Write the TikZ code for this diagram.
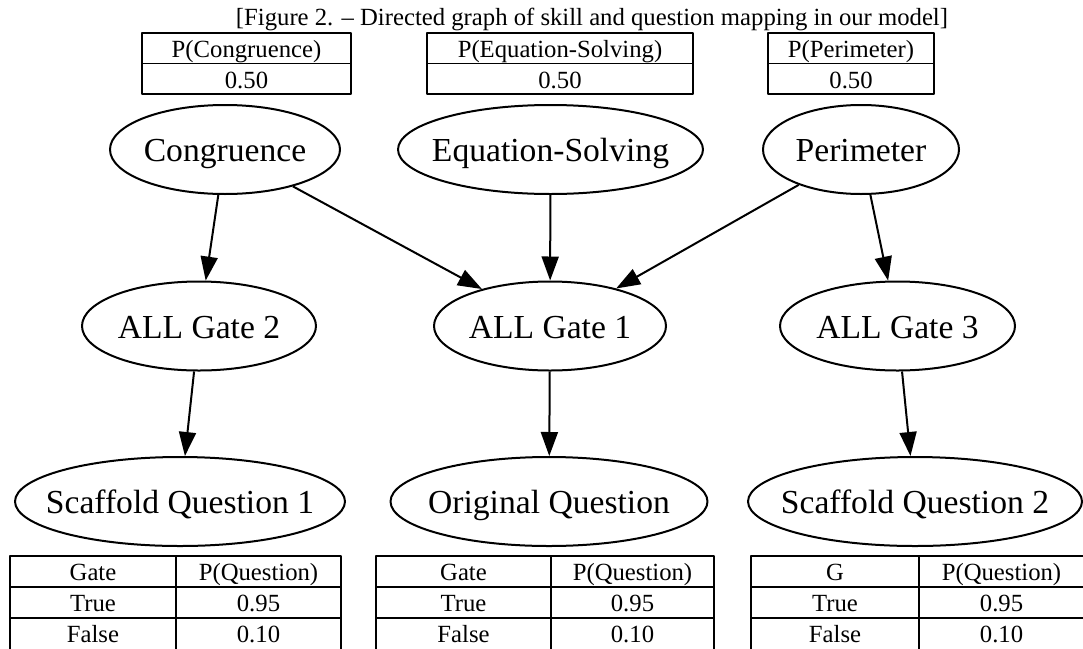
\documentclass[tikz,border=0pt]{standalone}
\usepackage{fontspec}
\setmainfont{Liberation Serif}
\usetikzlibrary{arrows.meta, shapes.geometric}
\def\inkColor{black}
\def\nodeText#1{\makebox[0pt]{#1}}

\begin{document}
\begin{tikzpicture}[x=1pt, y=-1pt, line join=round,
	skill/.style={draw=\inkColor, ellipse, line width=2pt, minimum height=89pt, inner sep=0pt, text height=24pt, text depth=0pt, font=\fontsize{33.6}{38}\selectfont},
	cell/.style={anchor=base, inner sep=0pt, font=\fontsize{24.7}{28}\selectfont},
	grid/.style={draw=\inkColor, line width=1.8pt},
	edge/.style={draw=\inkColor, line width=2pt, -{Triangle[length=24pt, width=17pt]}}]
	\useasboundingbox (0,0) rectangle (1083,648);
	\node[cell] (caption) at (592,25) {[Figure 2. – Directed graph of skill and question mapping in our model]};

	\foreach \skillName/\xa/\xb [count=\i] in {Congruence/142/351, Equation-Solving/427/693, Perimeter/768/934} {
		\draw[grid] (\xa,33) rectangle (\xb,94) (\xa,63.5) -- (\xb,63.5);
		\node[cell] (prior\i) at ({(\xa+\xb)/2},57.5) {P(\skillName)};
		\node[cell] (prior\i value) at ({(\xa+\xb)/2},88) {0.50};
	}

	\node[skill, minimum width=230pt] (congruence) at (225,149.5) {\nodeText{Congruence}};
	\node[skill, minimum width=305pt] (equation) at (550.5,149.5) {\nodeText{Equation-Solving}};
	\node[skill, minimum width=196pt] (perimeter) at (861,149.5) {\nodeText{Perimeter}};
	\node[skill, minimum width=234pt] (gate2) at (199,326) {\nodeText{ALL Gate 2}};
	\node[skill, minimum width=232pt] (gate1) at (550,326) {\nodeText{ALL Gate 1}};
	\node[skill, minimum width=235pt] (gate3) at (897.5,326) {\nodeText{ALL Gate 3}};
	\node[skill, minimum width=330pt] (scaffold1) at (180,501.5) {\nodeText{Scaffold Question 1}};
	\node[skill, minimum width=317pt] (original) at (549,501.5) {\nodeText{Original Question}};
	\node[skill, minimum width=334pt] (scaffold2) at (915,501.5) {\nodeText{Scaffold Question 2}};

	\foreach \from/\to in {congruence/gate2, congruence/gate1, equation/gate1, perimeter/gate1, perimeter/gate3, gate2/scaffold1, gate1/original, gate3/scaffold2}
		\draw[edge] (\from) -- (\to);

	\foreach \xa/\xm/\xb/\key [count=\i] in {10/176/341/Gate, 376/551/714/Gate, 751/919/1084/G} {
		\draw[grid] (\xa,556) rectangle (\xb,649.5);
		\draw[grid] (\xa,587) -- (\xb,587) (\xa,618) -- (\xb,618) (\xm,556) -- (\xm,649.5);
		\node[cell] (cpt\i key) at ({(\xa+\xm)/2},580) {\key};
		\node[cell] (cpt\i head) at ({(\xm+\xb)/2},580) {P(Question)};
		\node[cell] (cpt\i true) at ({(\xa+\xm)/2},611) {True};
		\node[cell] (cpt\i high) at ({(\xm+\xb)/2},611) {0.95};
		\node[cell] (cpt\i false) at ({(\xa+\xm)/2},642) {False};
		\node[cell] (cpt\i low) at ({(\xm+\xb)/2},642) {0.10};
	}
\end{tikzpicture}
\end{document}
